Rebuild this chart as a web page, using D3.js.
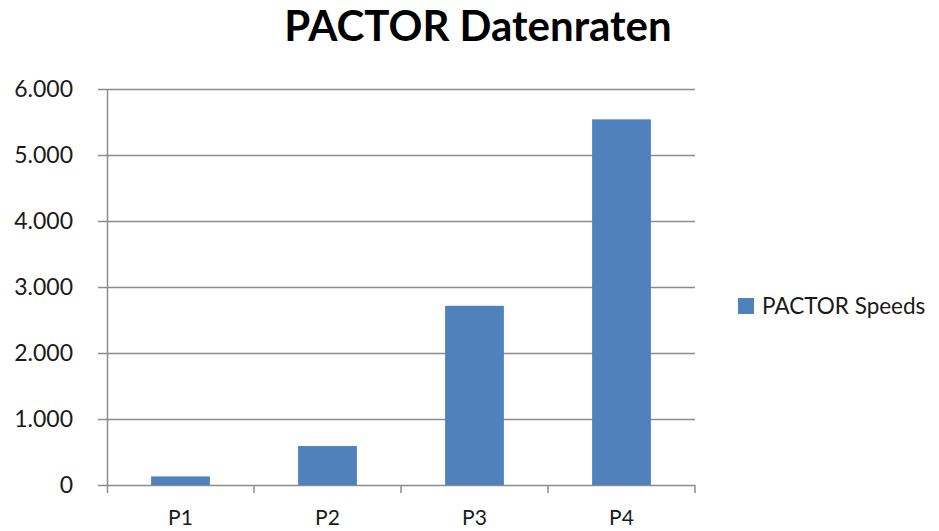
<!DOCTYPE html>
<html>
<head>
<meta charset="utf-8">
<script src="https://cdn.jsdelivr.net/npm/d3@7"></script>
<style>
  body { margin: 0; background: #fff; }
  text { font-family: Lato, "Open Sans", sans-serif; }
</style>
</head>
<body>
<div id="chart-area"></div>
<script>
// data
var categories = ["P1", "P2", "P3", "P4"]
var seriesName = "PACTOR Speeds"
var speeds = [130, 590, 2715, 5540]
var yTicks = [0, 1000, 2000, 3000, 4000, 5000, 6000]

var width = 939
var height = 531
var margin = {top: 89, right: 244, bottom: 46, left: 107}
var innerW = width - margin.left - margin.right
var innerH = height - margin.top - margin.bottom

var svg = d3.select("#chart-area")
  .append("svg")
  .attr("width", width)
  .attr("height", height)

var g = svg.append("g")
  .attr("transform", `translate(${margin.left}, ${margin.top})`)

var y = d3.scaleLinear().domain([0, 6000]).range([innerH, 0])
var x = d3.scaleBand().domain(categories).range([0, innerW]).padding(0)

var fmt = d3.formatLocale({decimal: ",", thousands: ".", grouping: [3], currency: ["", " €"]}).format(",")

// grid lines
g.selectAll(".grid")
  .data(yTicks)
  .enter()
  .append("line")
  .attr("class", "grid")
  .attr("x1", -9)
  .attr("x2", innerW)
  .attr("y1", d => Math.round(y(d)) + 0.5)
  .attr("y2", d => Math.round(y(d)) + 0.5)
  .attr("stroke", "#8c8c8c")
  .attr("stroke-width", 1.5)

// y labels
g.selectAll(".ylab")
  .data(yTicks)
  .enter()
  .append("text")
  .attr("class", "ylab")
  .attr("x", -34)
  .attr("y", d => y(d))
  .attr("dy", "0.36em")
  .attr("text-anchor", "end")
  .attr("font-size", "23px")
  .attr("fill", "#1a1a1a")
  .text(d => fmt(d))

// bars
var barW = x.bandwidth() * 0.4
g.selectAll("rect")
  .data(speeds)
  .enter()
  .append("rect")
  .attr("x", (d, i) => x(categories[i]) + (x.bandwidth() - barW) / 2)
  .attr("y", d => y(d))
  .attr("width", barW)
  .attr("height", d => innerH - y(d))
  .attr("fill", "#4f81bd")

// y axis line
g.append("line")
  .attr("x1", 0.5).attr("x2", 0.5)
  .attr("y1", 0).attr("y2", innerH + 8)
  .attr("stroke", "#8c8c8c")
  .attr("stroke-width", 1.5)

// x ticks at band edges
var edges = categories.map(c => x(c)).concat([innerW])
g.selectAll(".xtick")
  .data(edges.slice(1))
  .enter()
  .append("line")
  .attr("class", "xtick")
  .attr("x1", d => d).attr("x2", d => d)
  .attr("y1", innerH).attr("y2", innerH + 8)
  .attr("stroke", "#8c8c8c")
  .attr("stroke-width", 1.5)

// x labels
g.selectAll(".xlab")
  .data(categories)
  .enter()
  .append("text")
  .attr("class", "xlab")
  .attr("x", d => x(d) + x.bandwidth() / 2)
  .attr("y", innerH + 40)
  .attr("text-anchor", "middle")
  .attr("font-size", "21px")
  .attr("fill", "#1a1a1a")
  .text(d => d)

// title
svg.append("text")
  .attr("x", 478)
  .attr("y", 41)
  .attr("text-anchor", "middle")
  .attr("font-size", "42px")
  .attr("font-weight", "bold")
  .attr("fill", "#000")
  .text("PACTOR Datenraten")

// legend
var lg = svg.append("g").attr("transform", "translate(738, 298)")
lg.append("rect")
  .attr("width", 16).attr("height", 16)
  .attr("fill", "#4f81bd")
lg.append("text")
  .attr("x", 24)
  .attr("y", 8)
  .attr("dy", "0.36em")
  .attr("font-size", "22.5px")
  .attr("fill", "#1a1a1a")
  .text(seriesName)
</script>
</body>
</html>
